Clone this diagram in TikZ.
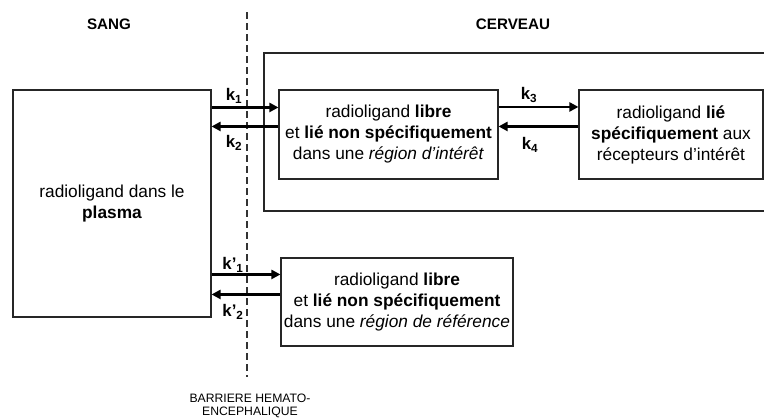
\documentclass[tikz,border=0pt]{standalone}
\usepackage{fontspec}
\setmainfont{Liberation Sans}
\usetikzlibrary{arrows.meta,calc}
\begin{document}
\begin{tikzpicture}[x=1bp,y=-1bp,
  box/.style={draw=black!85,line width=1.1bp,align=center,inner sep=0pt,
    font=\fontsize{17.3bp}{21bp}\selectfont},
  arr/.style={line width=2.6bp,-{Triangle[length=9bp,width=9bp]}},
  klab/.style={font=\fontsize{16.8bp}{18bp}\selectfont\bfseries,inner sep=0pt},
  title/.style={font=\fontsize{15.2bp}{16bp}\selectfont\bfseries,inner sep=0pt},
  barrier/.style={draw=black!80,line width=1.1bp,dash pattern=on 7bp off 4bp}]
\useasboundingbox (0,0) rectangle (764,419);
\fill[white] (0,0) rectangle (764,419);

% titles
\node[title] (sang) at (109,24) {SANG};
\node[title] (cerveau) at (513,24) {CERVEAU};

% barrier
\coordinate (btop) at (247,12);
\coordinate (bbot) at (247,377);
\draw[barrier] (btop) -- (bbot);
\node[font=\fontsize{12.2bp}{12.5bp}\selectfont,align=center,inner sep=0pt] (bhe) at (250,406)
  {BARRIERE HEMATO-\\ENCEPHALIQUE};

% brain compartment (open on the right)
\draw[draw=black!85,line width=1.1bp] (766,53) -- (264,53) -- (264,211) -- (766,211);

% boxes
\node[box,minimum width=198bp,minimum height=227bp] (plasma) at (112,203.5)
  {radioligand dans le\\\textbf{plasma}};
\node[box,minimum width=219bp,minimum height=89bp] (roi) at (388.5,134.5)
  {radioligand \textbf{libre}\\et \textbf{lié non spécifiquement}\\dans une \textit{région d’intérêt}};
\node[box,minimum width=184bp,minimum height=89bp] (bound) at (671,134.5)
  {radioligand \textbf{lié}\\\textbf{spécifiquement} aux\\récepteurs d’intérêt};
\node[box,minimum width=232bp,minimum height=88bp] (ref) at (397,302)
  {radioligand \textbf{libre}\\et \textbf{lié non spécifiquement}\\dans une \textit{région de référence}};

% arrows
\draw[arr] (plasma.east |- {$(roi.north west)+(0,18)$}) -- ($(roi.north west)+(0,18)$);
\draw[arr] ($(roi.north west)+(0,37)$) -- (plasma.east |- {$(roi.north west)+(0,37)$});
\draw[arr] ($(roi.north east)+(0,17.5)$) -- (bound.west |- {$(roi.north east)+(0,17.5)$});
\draw[arr] (bound.west |- {$(roi.north east)+(0,37)$}) -- ($(roi.north east)+(0,37)$);
\draw[arr] (plasma.east |- {$(ref.north west)+(0,17)$}) -- ($(ref.north west)+(0,17)$);
\draw[arr] ($(ref.north west)+(0,37)$) -- (plasma.east |- {$(ref.north west)+(0,37)$});

% rate labels
\node[klab] (k1) at (234,96) {k\textsubscript{1}};
\node[klab] (k2) at (234,143) {k\textsubscript{2}};
\node[klab] (k3) at (529,95) {k\textsubscript{3}};
\node[klab] (k4) at (530,145) {k\textsubscript{4}};
\node[klab] (kp1) at (233,265) {k’\textsubscript{1}};
\node[klab] (kp2) at (233,312) {k’\textsubscript{2}};
\end{tikzpicture}
\end{document}
